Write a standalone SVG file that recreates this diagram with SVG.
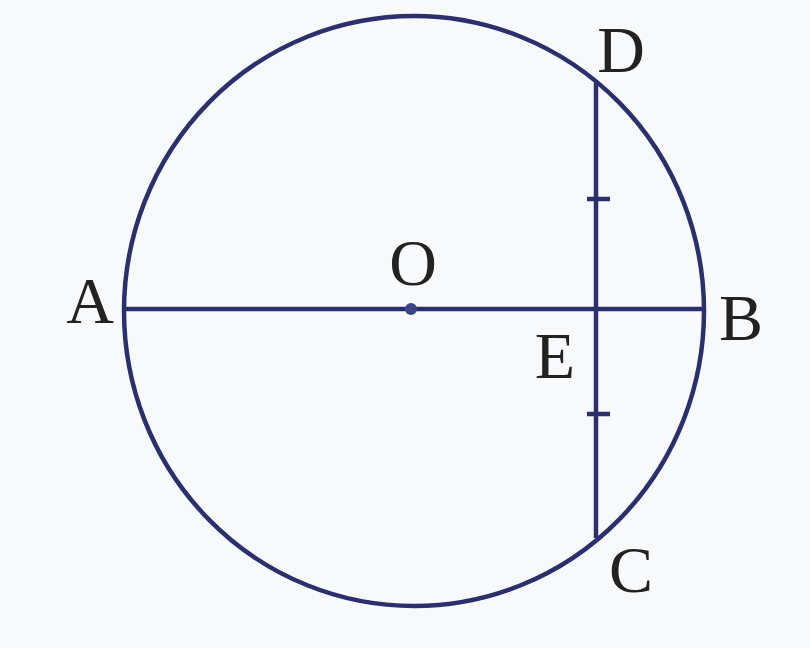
<svg xmlns="http://www.w3.org/2000/svg" width="810" height="648" viewBox="0 0 810 648">
<style>
.ln{stroke:#2b2f6b;stroke-width:4.5;fill:none}
.lb{font-family:"Liberation Serif","Times New Roman",serif;font-size:66px;fill:#222;text-anchor:middle}
</style>
<rect width="810" height="648" fill="#f8f9fb"/>
<g id="circle"><ellipse class="ln" cx="414" cy="311" rx="290" ry="295"/></g>
<g id="connectors">
<line id="AB" class="ln" x1="125" y1="309" x2="704" y2="309"/>
<line id="DC" class="ln" x1="596" y1="83" x2="596" y2="538"/>
<line class="ln" x1="587" y1="199" x2="610" y2="199" stroke-width="7"/>
<line class="ln" x1="587" y1="414" x2="610" y2="414" stroke-width="7"/>
</g>
<g id="O"><circle cx="411" cy="309" r="6" fill="#3a4585"/><text class="lb" x="413" y="285">O</text></g>
<g id="A"><text class="lb" x="90" y="323">A</text></g>
<g id="B"><text class="lb" x="741" y="340">B</text></g>
<g id="E"><text class="lb" x="555" y="378">E</text></g>
<g id="D"><text class="lb" x="621" y="72">D</text></g>
<g id="C"><text class="lb" x="631" y="592">C</text></g>
</svg>
